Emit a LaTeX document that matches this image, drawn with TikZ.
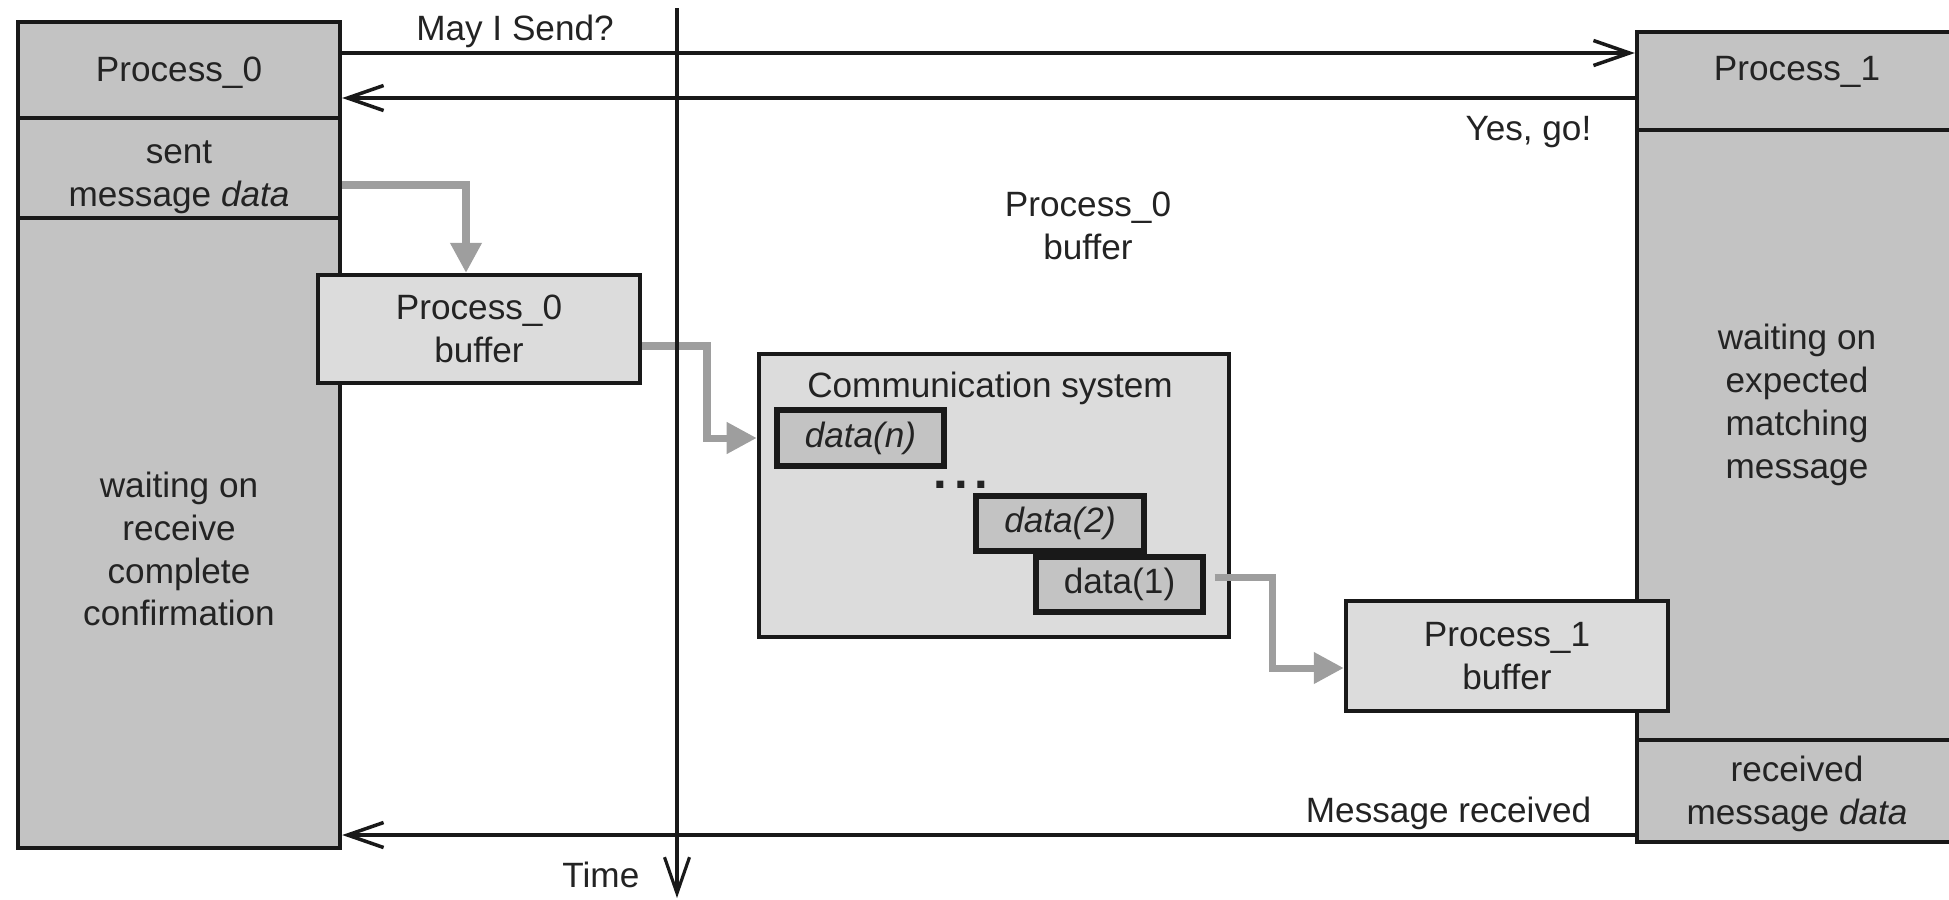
\documentclass[tikz,border=0pt]{standalone}
\usepackage{fontspec}
\setmainfont{Liberation Sans}
\usetikzlibrary{arrows.meta,calc}
\definecolor{colfill}{RGB}{195,195,195}
\definecolor{lightfill}{RGB}{220,220,220}
\definecolor{linecol}{RGB}{25,25,25}
\definecolor{txtcol}{RGB}{35,35,35}
\definecolor{flowgray}{RGB}{158,158,158}
\begin{document}
\begin{tikzpicture}[x=0.01cm,y=-0.01cm,
  font=\fontsize{10}{12.2}\selectfont,
  every node/.style={text=txtcol},
  colbox/.style={draw=linecol, line width=1.2pt, fill=colfill, rectangle, inner sep=0pt, align=center},
  lightbox/.style={draw=linecol, line width=1.2pt, fill=lightfill, rectangle, inner sep=0pt, align=center},
  databox/.style={draw=linecol, line width=1.5pt, fill=colfill, rectangle, inner sep=0pt},
  msg/.style={draw=linecol, line width=1pt, -{Straight Barb[length=3.6mm,width=2.5mm]}},
  flow/.style={draw=flowgray, line width=2pt, -{Triangle[length=3mm,width=3mm]}},
  lbl/.style={inner sep=0pt}
]
\useasboundingbox (0,0) rectangle (1949,899);
\clip (0,0) rectangle (1949,899);

% left column (Process_0)
\node[colbox, minimum width=3.22cm, minimum height=0.96cm] (p0) at (179,70) {};
\node[lbl] (p0txt) at (179,73) {Process\_0};
\node[colbox, minimum width=3.22cm, minimum height=1.00cm] (p0sent) at (179,168) {};
\node[lbl, align=center] (p0senttxt) at (179,177) {sent\\message \textit{data}};
\node[colbox, minimum width=3.22cm, minimum height=6.30cm] (p0wait) at (179,533) {};
\node[lbl, align=center] (p0waittxt) at (179,549) {waiting on\\receive\\complete\\confirmation};

% right column (Process_1)
\node[colbox, minimum width=3.23cm, minimum height=0.98cm] (p1) at (1798.5,81) {};
\node[lbl] (p1txt) at (1797,72) {Process\_1};
\node[colbox, minimum width=3.23cm, minimum height=6.10cm] (p1wait) at (1798.5,435) {};
\node[lbl, align=center] (p1waittxt) at (1797,405) {waiting on\\expected\\matching\\message};
\node[colbox, minimum width=3.23cm, minimum height=1.02cm] (p1recv) at (1798.5,791) {};
\node[lbl, align=center] (p1recvtxt) at (1797,794) {received\\message \textit{data}};

% buffers
\node[lightbox, minimum width=3.22cm, minimum height=1.08cm] (buf0) at (479,329) {Process\_0\\buffer};
\node[lbl, align=center] (p0buftxt) at (1088,226) {Process\_0\\buffer};

% communication system
\node[lightbox, minimum width=4.70cm, minimum height=2.83cm] (comm) at (994,495.5) {};
\node[lbl, anchor=base] (commtitle) at (990,397) {Communication system};
\node[databox, minimum width=1.67cm, minimum height=0.56cm] (dn) at (860.5,438) {\textit{data(n)}};
\node[lbl, anchor=base, font=\fontsize{14}{14}\selectfont\bfseries] (dots) at (961,488) {.\hspace{0.07cm}.\hspace{0.07cm}.};
\node[databox, minimum width=1.68cm, minimum height=0.55cm] (d2) at (1060,523.5) {\textit{data(2)}};
\node[databox, minimum width=1.67cm, minimum height=0.55cm] (d1) at (1119.5,584.5) {data(1)};

\node[lightbox, minimum width=3.22cm, minimum height=1.10cm] (buf1) at (1507,656) {Process\_1\\buffer};

% message arrows
\coordinate (yMay) at (0,53);
\coordinate (yYes) at (0,98);
\coordinate (yRecv) at (0,835);
\draw[msg] (p0.east |- yMay) -- (p1.west |- yMay);
\draw[msg] (p1.west |- yYes) -- (p0.east |- yYes);
\draw[msg] (p1recv.west |- yRecv) -- (p0wait.east |- yRecv);
\node[lbl, anchor=base] (maylbl) at (515,40) {May I Send?};
\node[lbl, anchor=base east] (yeslbl) at (1592,140) {Yes, go!};
\node[lbl, anchor=base east] (recvlbl) at (1592,822) {Message received};

% data flow arrows
\coordinate (f1s) at ($(p0sent.east)+(0,17)$);
\coordinate (f1e) at ($(buf0.north)+(-13,0)$);
\draw[flow] (f1s) -| (f1e);
\coordinate (f2s) at ($(buf0.east)+(0,17)$);
\coordinate (f2k) at (707,438);
\draw[flow] (f2s) -| (f2k) -- (comm.west |- f2k);
\coordinate (f3s) at ($(d1.east)+(9,-7.5)$);
\coordinate (f3k) at (1272,668);
\draw[flow] (f3s) -| (f3k) -- (buf1.west |- f3k);

% time axis
\coordinate (ttop) at (677,8);
\coordinate (tbot) at (677,898);
\draw[msg, line width=0.9pt] (ttop) -- (tbot);
\node[lbl, anchor=base east] (timelbl) at (640,887) {Time};
\end{tikzpicture}
\end{document}
